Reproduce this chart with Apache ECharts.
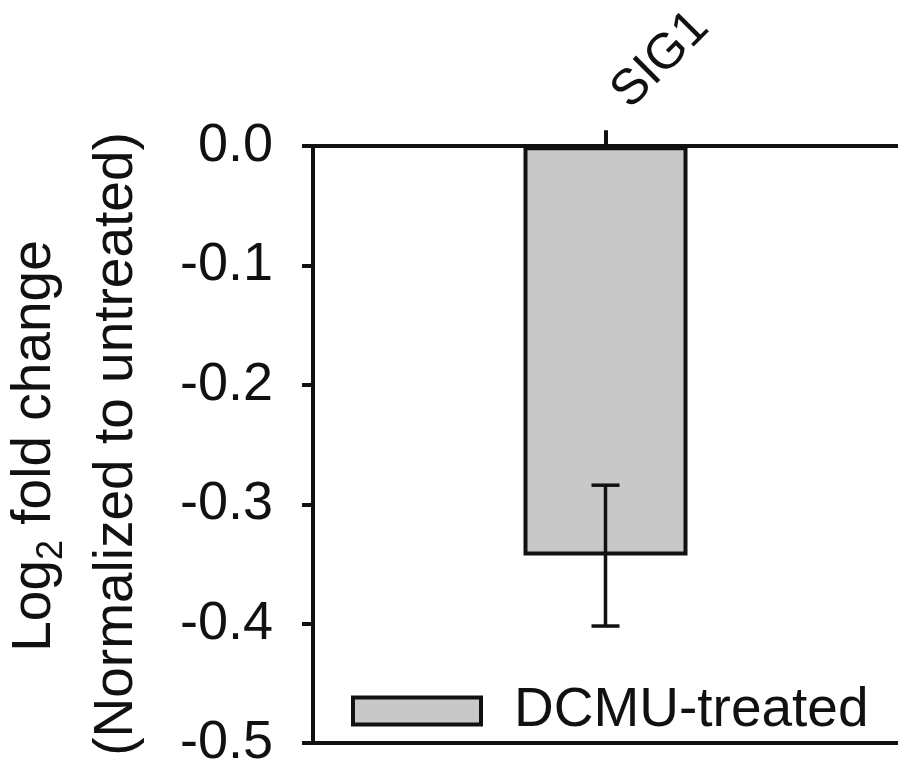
<!DOCTYPE html>
<html>
<head>
<meta charset="utf-8">
<script src="https://cdn.jsdelivr.net/npm/echarts@6/dist/echarts.min.js"></script>
<style>
html,body{margin:0;padding:0;background:#fff;}
#chart{width:898px;height:770px;}
</style>
</head>
<body>
<div id="chart"></div>
<script>
const categories = ['SIG1'];
const seriesName = 'DCMU-treated';
const meanValues = [-0.343];
const errLower = [-0.402];
const errUpper = [-0.284];
const yTitleLine1 = ['Log', '2', ' fold change'];
const yTitleLine2 = '(Normalized to untreated)';
const yMin = -0.5, yMax = 0, yStep = 0.1;

const FONT = '"Liberation Sans", Arial, Helvetica, sans-serif';
const INK = '#111111';
const FILL = '#c8c8c8';

const chart = echarts.init(document.getElementById('chart'), null, {renderer: 'canvas'});

const option = {
  backgroundColor: '#ffffff',
  animation: false,
  textStyle: {fontFamily: FONT},
  grid: {left: 313, top: 145, width: 600, height: 604, containLabel: false},
  legend: {
    data: [seriesName],
    left: 351, top: 681, padding: 0,
    icon: 'rect', itemWidth: 128, itemHeight: 27,
    itemStyle: {color: FILL, borderColor: INK, borderWidth: 4},
    textStyle: {fontSize: 55, color: INK, fontFamily: FONT, lineHeight: 60, padding: [0, 0, 0, 28]}
  },
  xAxis: [
    {
      type: 'category', data: categories, position: 'top',
      axisLine: {show: true, lineStyle: {color: INK, width: 4}},
      axisTick: {show: true, alignWithLabel: true, length: 16, lineStyle: {color: INK, width: 4}},
      axisLabel: {rotate: 45, fontSize: 50, margin: 31, color: INK, fontFamily: FONT,
        padding: [0, 0, 0, 21]},
      splitLine: {show: false}
    },
    {
      type: 'category', data: categories, position: 'bottom',
      axisLine: {show: true, lineStyle: {color: INK, width: 4}},
      axisTick: {show: false}, axisLabel: {show: false}, splitLine: {show: false}
    }
  ],
  yAxis: {
    type: 'value', min: yMin, max: yMax, interval: yStep,
    axisLine: {show: true, lineStyle: {color: INK, width: 4}},
    axisTick: {show: true, length: 11, lineStyle: {color: INK, width: 4}},
    axisLabel: {fontSize: 54, margin: 40, color: INK, fontFamily: FONT,
      formatter: v => v.toFixed(1)},
    splitLine: {show: false}
  },
  series: [
    {
      name: seriesName, type: 'bar', xAxisIndex: 0, data: meanValues,
      barWidth: 164,
      itemStyle: {color: FILL, borderColor: INK, borderWidth: 4}
    },
    {
      name: 'error', type: 'custom', xAxisIndex: 0, z: 5,
      data: categories.map((c, i) => [i, errLower[i], errUpper[i]]),
      renderItem: function (params, api) {
        const x = api.value(0);
        const lo = api.coord([x, api.value(1)]);
        const hi = api.coord([x, api.value(2)]);
        const cap = 14;
        const st = {stroke: INK, lineWidth: 3.5};
        return {
          type: 'group',
          children: [
            {type: 'line', shape: {x1: lo[0], y1: lo[1], x2: hi[0], y2: hi[1]}, style: st},
            {type: 'line', shape: {x1: lo[0] - cap, y1: lo[1], x2: lo[0] + cap, y2: lo[1]}, style: st},
            {type: 'line', shape: {x1: hi[0] - cap, y1: hi[1], x2: hi[0] + cap, y2: hi[1]}, style: st}
          ]
        };
      }
    }
  ],
  graphic: [
    {
      type: 'text', x: 35, y: 446, rotation: Math.PI / 2,
      style: {
        text: '{a|' + yTitleLine1[0] + '}{s|' + yTitleLine1[1] + '}{a|' + yTitleLine1[2] + '}',
        align: 'center', verticalAlign: 'middle',
        rich: {
          a: {fontSize: 55, fontFamily: FONT, fill: INK, lineHeight: 70, verticalAlign: 'middle'},
          s: {fontSize: 36, fontFamily: FONT, fill: INK, lineHeight: 30, verticalAlign: 'bottom'}
        }
      }
    },
    {
      type: 'text', x: 117, y: 444, rotation: Math.PI / 2,
      style: {
        text: yTitleLine2, fontSize: 55, fontFamily: FONT, fill: INK,
        align: 'center', verticalAlign: 'middle'
      }
    }
  ]
};

chart.setOption(option);
</script>
</body>
</html>
